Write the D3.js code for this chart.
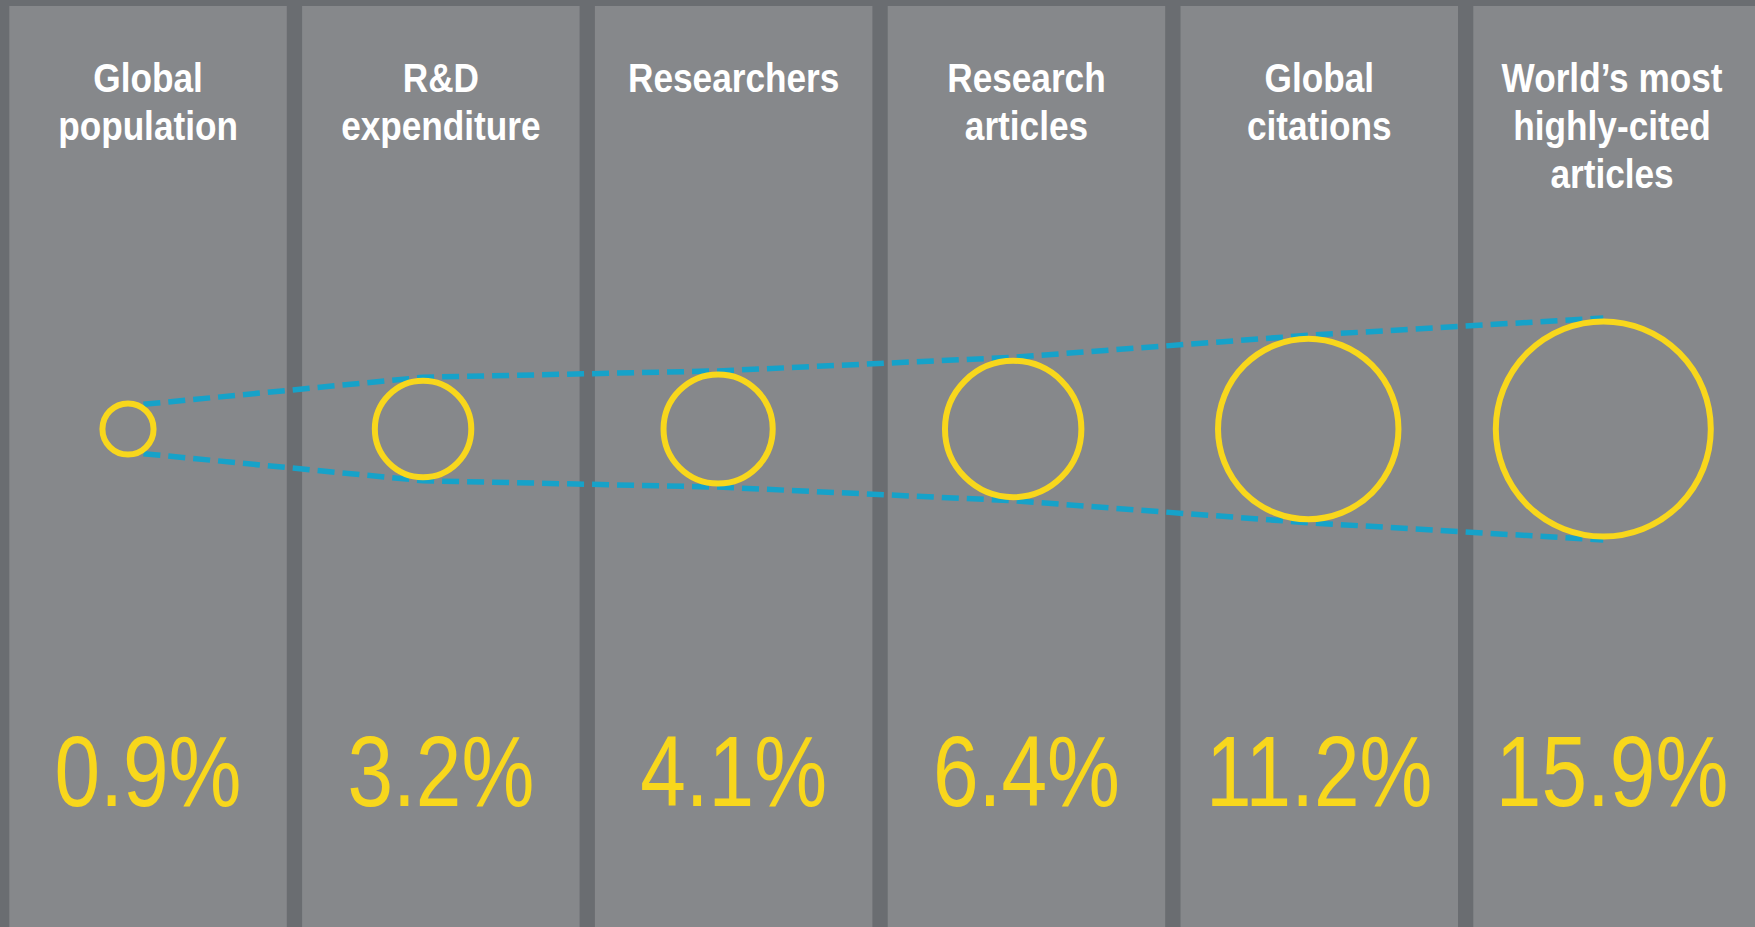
<!DOCTYPE html>
<html>
<head>
<meta charset="utf-8">
<script src="https://cdn.jsdelivr.net/npm/d3@7"></script>
<style>
  html, body { margin: 0; padding: 0; background: #6a6d71; }
  svg { display: block; }
</style>
</head>
<body>
<div id="chart"></div>
<script>
// ---- data ----
const categories = ["Global population", "R&D expenditure", "Researchers", "Research articles", "Global citations", "World’s most highly-cited articles"];
const titleLines = [["Global", "population"], ["R&D", "expenditure"], ["Researchers"], ["Research", "articles"], ["Global", "citations"], ["World’s most", "highly-cited", "articles"]];
const values = [0.9, 3.2, 4.1, 6.4, 11.2, 15.9];
const valueLabels = ["0.9%", "3.2%", "4.1%", "6.4%", "11.2%", "15.9%"];

// ---- layout ----
const W = 1755, H = 927;
const colors = { bg: "#6a6d71", panel: "#86888b", title: "#ffffff", yellow: "#f8d71c", line: "#16a2c9" };
const cy = 429;

const svg = d3.select("#chart").append("svg")
  .attr("width", W).attr("height", H)
  .attr("viewBox", `0 0 ${W} ${H}`);

svg.append("rect").attr("width", W).attr("height", H).attr("fill", colors.bg);

const idx = d3.range(categories.length);
const panelX = d3.scaleBand().domain(idx).range([9.3, 1750.8]).paddingInner(0.0523).paddingOuter(0);
const circleX = d3.scalePoint().domain(idx).range([128, 1603.3]);
const rScale = d3.scaleSqrt().domain([0, d3.max(values)]).range([0, 107.5]);

// panels
svg.append("g").selectAll("rect").data(idx).join("rect")
  .attr("x", i => panelX(i))
  .attr("y", 6)
  .attr("width", i => i === idx.length - 1 ? W - panelX(i) : panelX.bandwidth())
  .attr("height", H - 6)
  .attr("fill", colors.panel);

// titles
const titles = svg.append("g").selectAll("text").data(idx).join("text")
  .attr("transform", i => `translate(${panelX(i) + panelX.bandwidth() / 2},0) scale(0.88,1)`)
  .attr("text-anchor", "middle")
  .attr("font-family", "'Liberation Sans', Arial, sans-serif")
  .attr("font-weight", 700)
  .attr("font-size", 40)
  .attr("fill", colors.title);
titles.selectAll("tspan").data(i => titleLines[i]).join("tspan")
  .attr("x", 0)
  .attr("y", (d, k) => 92 + k * 48)
  .text(d => d);

// dashed outline lines (tangent along tops and bottoms of the circles)
const gap = 3.5;
function edgePoints(sign) {
  return idx.map(i => {
    const r = rScale(values[i]) + gap;
    if (i === 0) {
      const a = 58 * Math.PI / 180;
      return [circleX(i) + r * Math.cos(a), cy + sign * r * Math.sin(a)];
    }
    return [circleX(i), cy + sign * r];
  });
}
const line = d3.line();
const lines = svg.append("g");
[-1, 1].forEach(s => {
  lines.append("path")
    .attr("d", line(edgePoints(s)))
    .attr("fill", "none")
    .attr("stroke", colors.line)
    .attr("stroke-width", 5.5)
    .attr("stroke-dasharray", "17,8");
});

// circles
svg.append("g").selectAll("circle").data(idx).join("circle")
  .attr("cx", i => circleX(i))
  .attr("cy", cy)
  .attr("r", i => rScale(values[i]))
  .attr("fill", "none")
  .attr("stroke", colors.yellow)
  .attr("stroke-width", 6);

// value labels
svg.append("g").selectAll("text").data(idx).join("text")
  .attr("transform", i => `translate(${panelX(i) + panelX.bandwidth() / 2},806) scale(0.82,1)`)
  .attr("text-anchor", "middle")
  .attr("font-family", "'Liberation Sans', Arial, sans-serif")
  .attr("font-weight", 400)
  .attr("font-size", 100)
  .attr("fill", colors.yellow)
  .text(i => valueLabels[i]);
</script>
</body>
</html>
